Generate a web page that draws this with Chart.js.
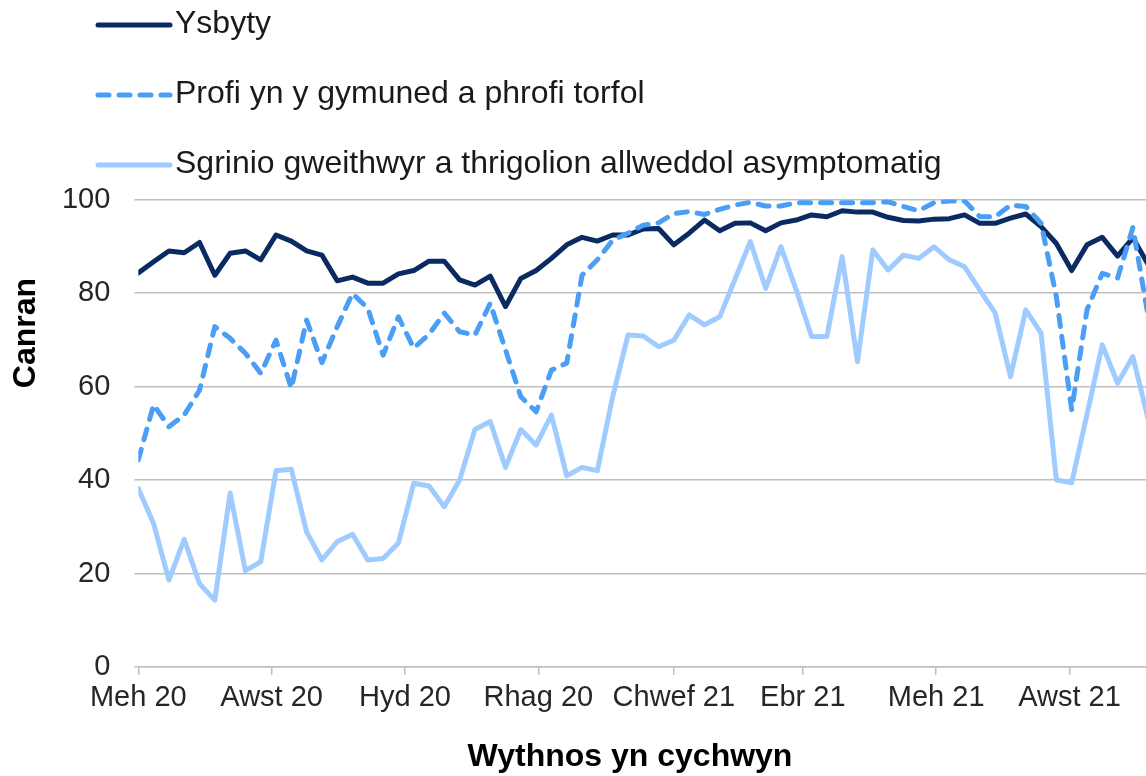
<!DOCTYPE html>
<html>
<head>
<meta charset="utf-8">
<script src="https://cdn.jsdelivr.net/npm/chart.js@4.4.1/dist/chart.umd.min.js"></script>
<style>
html,body{margin:0;padding:0;background:#fff;}
#wrap{width:1146px;height:776px;position:relative;}
</style>
</head>
<body>
<div id="wrap"><canvas id="c" width="1146" height="776"></canvas></div>
<script>
// ---- data ----
const weekStarts = [
 '2020-06-01','2020-06-08','2020-06-15','2020-06-22','2020-06-29','2020-07-06','2020-07-13','2020-07-20','2020-07-27',
 '2020-08-03','2020-08-10','2020-08-17','2020-08-24','2020-08-31','2020-09-07','2020-09-14','2020-09-21','2020-09-28',
 '2020-10-05','2020-10-12','2020-10-19','2020-10-26','2020-11-02','2020-11-09','2020-11-16','2020-11-23','2020-11-30',
 '2020-12-07','2020-12-14','2020-12-21','2020-12-28','2021-01-04','2021-01-11','2021-01-18','2021-01-25','2021-02-01',
 '2021-02-08','2021-02-15','2021-02-22','2021-03-01','2021-03-08','2021-03-15','2021-03-22','2021-03-29','2021-04-05',
 '2021-04-12','2021-04-19','2021-04-26','2021-05-03','2021-05-10','2021-05-17','2021-05-24','2021-05-31','2021-06-07',
 '2021-06-14','2021-06-21','2021-06-28','2021-07-05','2021-07-12','2021-07-19','2021-07-26','2021-08-02','2021-08-09',
 '2021-08-16','2021-08-23','2021-08-30','2021-09-06'
];
const hospital = [
 84.3,86.7,89.0,88.6,90.8,83.8,88.5,89.0,87.1,92.4,91.1,89.0,88.1,82.6,83.4,82.1,82.1,84.1,
 84.8,86.8,86.8,82.8,81.7,83.6,77.1,83.1,84.8,87.4,90.3,91.9,91.1,92.4,92.4,93.7,93.8,90.3,
 92.8,95.6,93.3,94.9,95.0,93.3,95.0,95.6,96.7,96.3,97.6,97.3,97.3,96.2,95.5,95.4,95.8,95.9,
 96.7,94.9,94.9,96.0,96.9,94.2,90.6,84.8,90.3,91.9,87.9,91.8,86.1
];
const community = [
 44.3,56.1,51.4,53.9,59.2,72.8,70.3,67.1,62.8,69.9,59.6,74.2,65.1,72.8,79.9,76.7,66.7,74.9,
 68.2,71.2,75.7,71.7,71.0,77.8,67.8,57.8,54.6,63.5,65.0,83.8,87.1,91.3,92.8,94.5,95.0,97.0,
 97.4,96.8,97.9,98.8,99.4,98.6,98.6,99.3,99.3,99.3,99.3,99.3,99.3,99.5,98.5,97.6,99.3,99.7,
 99.7,96.3,96.3,98.8,98.5,94.9,79.2,55.0,76.4,84.2,83.2,94.0,75.0
];
const screening = [
 38.2,30.7,18.6,27.3,17.8,14.3,37.2,20.6,22.5,42.0,42.3,28.9,22.9,26.8,28.4,22.9,23.2,26.5,
 39.3,38.7,34.3,40.0,50.8,52.5,42.7,50.8,47.5,53.9,40.9,42.7,42.0,57.8,71.0,70.8,68.5,69.9,
 75.3,73.2,74.9,83.0,91.0,81.0,89.9,80.6,70.7,70.7,87.8,65.3,89.2,84.9,88.1,87.4,89.9,87.1,
 85.6,80.6,75.7,62.1,76.4,71.4,40.0,39.4,54.0,68.9,60.7,66.4,53.0
];
const seriesNames = ['Ysbyty','Profi yn y gymuned a phrofi torfol','Sgrinio gweithwyr a thrigolion allweddol asymptomatig'];
const tickDates = ['2020-06-01','2020-08-01','2020-10-01','2020-12-01','2021-02-01','2021-04-01','2021-06-01','2021-08-01'];
const tickLabels = ['Meh 20','Awst 20','Hyd 20','Rhag 20','Chwef 21','Ebr 21','Meh 21','Awst 21'];
const axisStart = '2020-06-01';
const axisEnd = '2021-09-05';
const xTitle = 'Wythnos yn cychwyn';
const yTitle = 'Canran';

// ---- helpers ----
const dayOffset = d => (Date.parse(d) - Date.parse(axisStart)) / 86400000;
const toPoints = vals => vals.map((v, i) => ({x: dayOffset(weekStarts[i]), y: v}));

const FONT = "'Liberation Sans', Arial, sans-serif";
const styles = [
  {color:'#0a2b62', dash:[]},
  {color:'#4a9ef5', dash:[11,10]},
  {color:'#a0cbff', dash:[]}
];
const LW = 5;

const legendAndTitles = {
  id: 'legendAndTitles',
  afterDraw(chart) {
    const ctx = chart.ctx;
    ctx.save();
    // legend
    const ys = [25, 95, 165];
    chart.data.datasets.forEach((ds, i) => {
      const y = ys[i];
      ctx.beginPath();
      ctx.lineWidth = 5;
      ctx.strokeStyle = ds.borderColor;
      ctx.lineCap = 'round';
      ctx.setLineDash(ds.borderDash || []);
      ctx.moveTo(98, y);
      ctx.lineTo(170, y);
      ctx.stroke();
      ctx.setLineDash([]);
      ctx.fillStyle = '#1a1a1a';
      ctx.font = '32px ' + FONT;
      ctx.textAlign = 'left';
      ctx.textBaseline = 'alphabetic';
      ctx.fillText(ds.label, 175, y + 8);
    });
    // axis titles
    ctx.fillStyle = '#000';
    ctx.font = 'bold 32px ' + FONT;
    ctx.textAlign = 'center';
    ctx.textBaseline = 'alphabetic';
    ctx.fillText(xTitle, 630, 766);
    ctx.translate(35, 333);
    ctx.rotate(-Math.PI / 2);
    ctx.fillText(yTitle, 0, 0);
    ctx.restore();
  }
};

new Chart(document.getElementById('c'), {
  type: 'line',
  data: {
    datasets: [
      {label: seriesNames[0], data: toPoints(hospital), borderColor: styles[0].color, borderDash: styles[0].dash, order: 2},
      {label: seriesNames[1], data: toPoints(community), borderColor: styles[1].color, borderDash: styles[1].dash, order: 1},
      {label: seriesNames[2], data: toPoints(screening), borderColor: styles[2].color, borderDash: styles[2].dash, order: 0}
    ].map(d => Object.assign(d, {borderWidth: LW, pointRadius: 0, pointHoverRadius: 0, tension: 0, fill: false,
      borderCapStyle: 'round', borderJoinStyle: 'round'}))
  },
  options: {
    responsive: false,
    animation: false,
    events: [],
    layout: {padding: {top: 199.5, left: 0, right: 0, bottom: 0}},
    plugins: {legend: {display: false}, tooltip: {enabled: false}, title: {display: false}},
    scales: {
      x: {
        type: 'linear',
        min: 0,
        max: dayOffset(axisEnd),
        afterBuildTicks: s => { s.ticks = tickDates.map(d => ({value: dayOffset(d)})); },
        afterFit: s => { s.height = 109; },
        ticks: {
          autoSkip: false, maxRotation: 0, minRotation: 0, padding: 6,
          color: '#262626', font: {family: FONT, size: 29},
          callback: (v, i) => tickLabels[i]
        },
        grid: {drawOnChartArea: false, drawTicks: true, tickLength: 8, color: '#bfbfbf', lineWidth: 1.5},
        border: {display: true, color: '#bfbfbf', width: 1.5}
      },
      y: {
        min: 0, max: 100,
        afterFit: s => { s.width = 138.3; },
        ticks: {stepSize: 20, padding: 24, color: '#262626', font: {family: FONT, size: 29}},
        grid: {color: '#bfbfbf', lineWidth: 1.5, drawTicks: true, tickLength: 4},
        border: {display: false}
      }
    }
  },
  plugins: [legendAndTitles]
});
</script>
</body>
</html>
